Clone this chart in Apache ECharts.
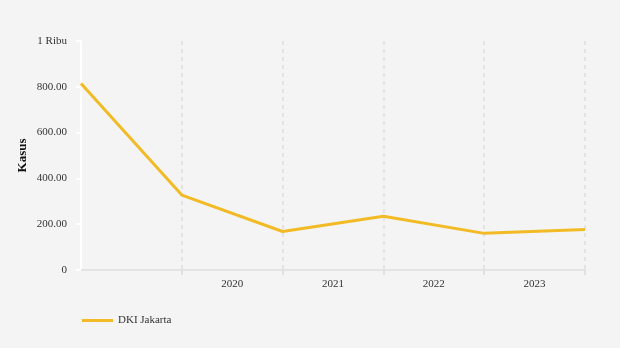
<!DOCTYPE html>
<html><head><meta charset="utf-8">
<script src="https://cdn.jsdelivr.net/npm/echarts@6/dist/echarts.min.js"></script>
<style>html,body{margin:0;padding:0;background:#f4f4f4}#c{width:620px;height:348px}</style>
</head><body><div id="c"></div>
<script>
const pointCats = ['p0','p1','p2','p3','p4','p5'];
const yearLabels = ['', '2020', '2021', '2022', '2023'];
const seriesName = 'DKI Jakarta';
const values = [814, 327, 168, 235, 160, 177];
const yTicks = [0, 200, 400, 600, 800, 1000];

const FONT = 'Liberation Serif';
const chart = echarts.init(document.getElementById('c'));
chart.setOption({
  backgroundColor: '#f4f4f4',
  animation: false,
  textStyle: {fontFamily: FONT},
  grid: {left: 81, right: 35, top: 41, bottom: 78},
  legend: {
    left: 77, top: 310, icon: 'rect', itemWidth: 31, itemHeight: 3, itemGap: 10,
    textStyle: {fontFamily: FONT, fontSize: 11, color: '#333'},
    data: [seriesName]
  },
  xAxis: [{
    type: 'category', data: pointCats, boundaryGap: false, position: 'bottom',
    axisLine: {lineStyle: {color: '#e3e3e3', width: 2}},
    axisTick: {show: true, length: 5, interval: (i) => i > 0, lineStyle: {color: '#e0e0e0', width: 2}},
    axisLabel: {show: false},
    splitLine: {show: true, interval: (i) => i > 0, lineStyle: {color: '#dddddd', type: [4, 4], width: 1.5}}
  }, {
    type: 'category', data: yearLabels, boundaryGap: true, position: 'bottom',
    axisLine: {show: false}, axisTick: {show: false}, splitLine: {show: false},
    axisLabel: {fontFamily: FONT, fontSize: 11, color: '#333', margin: 9}
  }],
  yAxis: {
    type: 'value', min: yTicks[0], max: yTicks[yTicks.length - 1], interval: 200,
    name: 'Kasus', nameLocation: 'middle', nameGap: 52, nameMoveOverlap: false,
    nameTextStyle: {fontFamily: FONT, fontSize: 13, fontWeight: 'bold', color: '#111'},
    axisLine: {show: true, lineStyle: {color: '#ffffff', width: 2}},
    axisTick: {show: true, length: 5, lineStyle: {color: '#ffffff', width: 2}},
    splitLine: {show: false},
    axisLabel: {
      fontFamily: FONT, fontSize: 11, color: '#333', margin: 14,
      formatter: v => v === 0 ? '0' : (v === 1000 ? '1 Ribu' : v.toFixed(2))
    }
  },
  series: [{
    name: seriesName, type: 'line', xAxisIndex: 0, data: values,
    showSymbol: false, symbol: 'none',
    lineStyle: {color: '#f2bb25', width: 3},
    itemStyle: {color: '#f2bb25'}
  }]
});
</script></body></html>
